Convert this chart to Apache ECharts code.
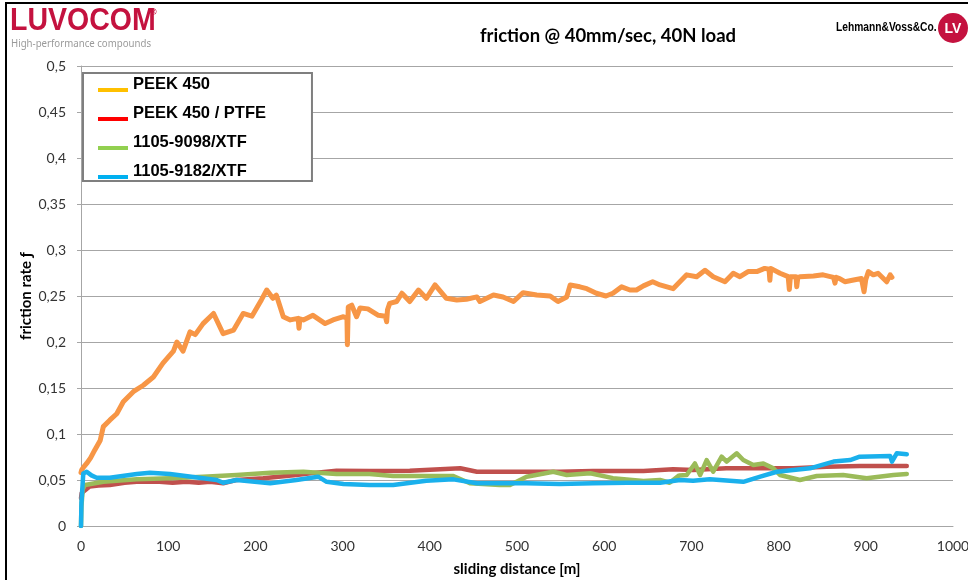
<!DOCTYPE html>
<html>
<head>
<meta charset="utf-8">
<script src="https://cdn.jsdelivr.net/npm/echarts@6/dist/echarts.min.js"></script>
<style>
html,body{margin:0;padding:0;background:#fff;}
#chart{width:968px;height:580px;}
</style>
</head>
<body>
<div id="chart"></div>
<script>
// ---- data ----
var seriesNames = ['PEEK 450', 'PEEK 450 / PTFE', '1105-9098/XTF', '1105-9182/XTF'];
var legendColors = ['#FFC000', '#FF0000', '#92D050', '#00B0F0'];
var lineColors = ['#F79646', '#C0504D', '#9BBB59', '#1AB0EC'];
var xTicks = [0, 100, 200, 300, 400, 500, 600, 700, 800, 900, 1000];
var yTicks = [0, 0.05, 0.1, 0.15, 0.2, 0.25, 0.3, 0.35, 0.4, 0.45, 0.5];

var peek450 = [
 [0,0.058],[0.8,0.061],[3,0.064],[6.5,0.068],[11,0.074],[16,0.083],[22,0.093],[25.6,0.108],[33,0.115],
 [41,0.122],[48.5,0.135],[60,0.146],[71.5,0.153],[83,0.162],[94,0.177],[106,0.19],[110,0.2],[117,0.19],
 [125,0.211],[131,0.208],[140,0.22],[152,0.231],[163,0.209],[175,0.213],[186,0.231],[196,0.228],[207,0.246],
 [213,0.2565],[220,0.2475],[224,0.251],[232,0.2275],[240,0.224],[249,0.2257],[250,0.215],[251,0.225],
 [255,0.224],[266,0.229],[280,0.22],[289,0.224],[301,0.2275],[305,0.226],[305.5,0.197],[306.5,0.238],
 [310.5,0.24],[316,0.2275],[320,0.237],[329,0.236],[341,0.229],[349,0.228],[350.5,0.222],[351.5,0.235],
 [354,0.242],[362,0.244],[368,0.253],[377,0.244],[387,0.2565],[396,0.2475],[406,0.262],[419,0.2475],
 [431,0.2457],[442,0.2464],[454,0.249],[457.5,0.244],[473,0.251],[484,0.249],[496,0.244],[507,0.2536],
 [522.6,0.251],[538,0.25],[547,0.244],[557,0.249],[561,0.262],[572,0.26],[580,0.258],[591,0.253],
 [602,0.25],[610,0.253],[620,0.26],[629.6,0.2565],[637,0.2565],[645,0.261],[655.6,0.2655],[664,0.262],
 [679,0.258],[694.6,0.273],[706,0.271],[715.6,0.278],[725,0.271],[738.5,0.2655],[748,0.2747],[755.7,0.271],
 [765,0.2765],[775,0.2765],[784,0.28],[789,0.279],[790,0.267],[791,0.28],[792,0.282],[801.6,0.2747],
 [811,0.271],[812.3,0.257],[813.5,0.271],[820,0.271],[820.8,0.26],[822,0.27],[824.5,0.271],[840,0.2717],
 [851,0.273],[863,0.2703],[864.7,0.264],[866,0.2703],[870,0.269],[876,0.2655],[886,0.2674],[895,0.269],
 [898,0.2547],[900,0.268],[903,0.2765],[908.6,0.273],[914,0.2747],[924,0.2655],[928,0.273],[930,0.2703]
];
var peekPtfe = [
 [0,0.03],[0.8,0.036],[2.6,0.037],[10,0.043],[20,0.044],[33,0.0446],[50,0.047],[64,0.048],[90,0.048],
 [105,0.047],[121,0.048],[135,0.047],[148,0.048],[163,0.0464],[178,0.05],[209,0.052],[247,0.0554],
 [270,0.058],[293,0.0601],[331,0.0598],[377,0.0601],[435,0.0627],[454,0.059],[511,0.059],[549,0.059],
 [587,0.0598],[645,0.0598],[679,0.0616],[702,0.0609],[740,0.0627],[779,0.0627],[817,0.0627],[855,0.0645],
 [893,0.0652],[947,0.0652]
];
var xtf9098 = [
 [0,0],[0.5,0.021],[2,0.04],[4.6,0.0446],[25.6,0.048],[64,0.0507],[102,0.0518],[140,0.0536],[178.5,0.0554],
 [217,0.058],[255,0.059],[293,0.0565],[331,0.0565],[358,0.0543],[396,0.0543],[427,0.0543],[446,0.0464],
 [480,0.0446],[492,0.0446],[511,0.0536],[541.6,0.059],[557,0.0554],[584,0.0573],[610,0.052],[645,0.049],
 [664,0.05],[675,0.047],[686,0.055],[694.6,0.0554],[704,0.068],[710,0.0554],[717.5,0.0717],[725,0.059],
 [734.7,0.0753],[740.5,0.07],[752,0.079],[759.5,0.0717],[771,0.0663],[782.5,0.068],[794,0.0627],
 [801.6,0.0554],[824.5,0.05],[843.7,0.0543],[874,0.0554],[901,0.052],[931.6,0.0554],[947,0.0565]
];
var xtf9182 = [
 [0,0],[0.5,0.025],[2.6,0.057],[6.5,0.059],[12,0.055],[18,0.0525],[33,0.0525],[64,0.0565],[79,0.058],
 [102,0.0565],[140,0.052],[155.6,0.05],[163,0.047],[178.5,0.05],[217,0.0464],[247,0.05],[272,0.0536],
 [281.7,0.048],[301,0.0456],[331,0.0446],[358,0.0446],[396,0.0493],[427,0.0507],[454,0.0464],[511,0.0464],
 [549,0.0456],[587.5,0.0464],[626,0.047],[664,0.047],[687,0.05],[702,0.0493],[721,0.0507],[759.5,0.048],
 [779,0.0536],[798,0.059],[817,0.0609],[836,0.0627],[863,0.07],[882,0.0717],[893,0.0753],[928,0.076],
 [930,0.07],[935.5,0.079],[947,0.078]
];
var seriesData = [peek450, peekPtfe, xtf9098, xtf9182];
var lineWidths = [5, 4.5, 4.5, 4.5];

var chart = echarts.init(document.getElementById('chart'), null, {renderer: 'canvas'});
var legendIcon = 'path://M0,0 M0,13 L30,13 L30,17 L0,17 Z M30,18';

var option = {
  animation: false,
  backgroundColor: '#ffffff',
  grid: {left: 81, right: 15, top: 66, bottom: 54, containLabel: false, outerBoundsMode: 'none'},
  xAxis: {
    type: 'value', min: xTicks[0], max: xTicks[xTicks.length - 1], interval: 100,
    name: 'sliding distance [m]', nameLocation: 'middle', nameGap: 36, nameMoveOverlap: false,
    nameTextStyle: {fontFamily: 'Lato', fontWeight: 'bold', fontSize: 15, color: '#000'},
    axisLine: {show: true, lineStyle: {color: '#a6a6a6', width: 1}},
    axisTick: {show: false},
    splitLine: {show: false},
    axisLabel: {margin: 13, fontFamily: 'Lato', fontSize: 14, color: '#333',
      formatter: function (v) { return String(v); }}
  },
  yAxis: {
    type: 'value', min: yTicks[0], max: yTicks[yTicks.length - 1], interval: 0.05,
    name: 'friction rate ƒ', nameLocation: 'middle', nameGap: 47, nameMoveOverlap: false,
    nameTextStyle: {fontFamily: 'Lato', fontWeight: 'bold', fontSize: 15, color: '#000'},
    axisLine: {show: true, lineStyle: {color: '#a6a6a6', width: 1}},
    axisTick: {show: true, length: 4, lineStyle: {color: '#a6a6a6'}},
    splitLine: {show: true, lineStyle: {color: '#a6a6a6', width: 1}},
    axisLabel: {margin: 15, fontFamily: 'Lato', fontSize: 14, color: '#333',
      formatter: function (v) { return String(+v.toFixed(2)).replace('.', ','); }}
  },
  legend: {
    orient: 'vertical', left: 83, top: 73,
    padding: [2, 46, 1, 15],
    itemWidth: 30, itemHeight: 18, itemGap: 11,
    icon: legendIcon,
    backgroundColor: '#ffffff', borderColor: '#7f7f7f', borderWidth: 2,
    textStyle: {fontFamily: 'Liberation Sans', fontWeight: 'bold', fontSize: 16.5, lineHeight: 18, color: '#000'},
    data: seriesNames.map(function (n, i) { return {name: n, itemStyle: {color: legendColors[i]}}; }),
    z: 10
  },
  graphic: [
    {type: 'rect', shape: {x: 6, y: 3, width: 1000, height: 620}, style: {fill: 'none', stroke: '#000', lineWidth: 2}, silent: true},
    {type: 'text', x: 10, y: 21, scaleX: 0.92, style: {text: 'LUVOCOM', fill: '#C4123F', fontFamily: 'Liberation Sans', fontWeight: 'bold', fontSize: 31, textVerticalAlign: 'middle'}},
    {type: 'text', x: 150, y: 13, style: {text: '®', fill: '#C4123F', fontFamily: 'Liberation Sans', fontWeight: 'bold', fontSize: 9, textVerticalAlign: 'middle'}},
    {type: 'text', x: 11, y: 44, scaleX: 0.92, style: {text: 'High-performance compounds', fill: '#9a9a9a', fontFamily: 'Noto Sans', fontSize: 10.5, textVerticalAlign: 'middle'}},
    {type: 'text', x: 608, y: 36, style: {text: 'friction @ 40mm/sec, 40N load', fill: '#000', fontFamily: 'Lato', fontWeight: 'bold', fontSize: 18.5, textAlign: 'center', textVerticalAlign: 'middle'}},
    {type: 'text', x: 836, y: 28, scaleX: 0.82, style: {text: 'Lehmann&Voss&Co.', fill: '#000', fontFamily: 'Liberation Sans', fontWeight: 'bold', fontSize: 12.5, textVerticalAlign: 'middle'}},
    {type: 'circle', shape: {cx: 953, cy: 28, r: 15}, style: {fill: '#C4123F'}},
    {type: 'text', x: 953, y: 29, style: {text: 'LV', fill: '#fff', fontFamily: 'Liberation Sans', fontWeight: 'bold', fontSize: 14, textAlign: 'center', textVerticalAlign: 'middle'}}
  ],
  series: seriesNames.map(function (n, i) {
    return {
      name: n, type: 'line', data: seriesData[i], showSymbol: false, symbol: 'none',
      lineStyle: {color: lineColors[i], width: lineWidths[i], join: 'round', cap: 'round'},
      itemStyle: {color: lineColors[i]},
      z: 2 + i
    };
  })
};
chart.setOption(option);
</script>
</body>
</html>
